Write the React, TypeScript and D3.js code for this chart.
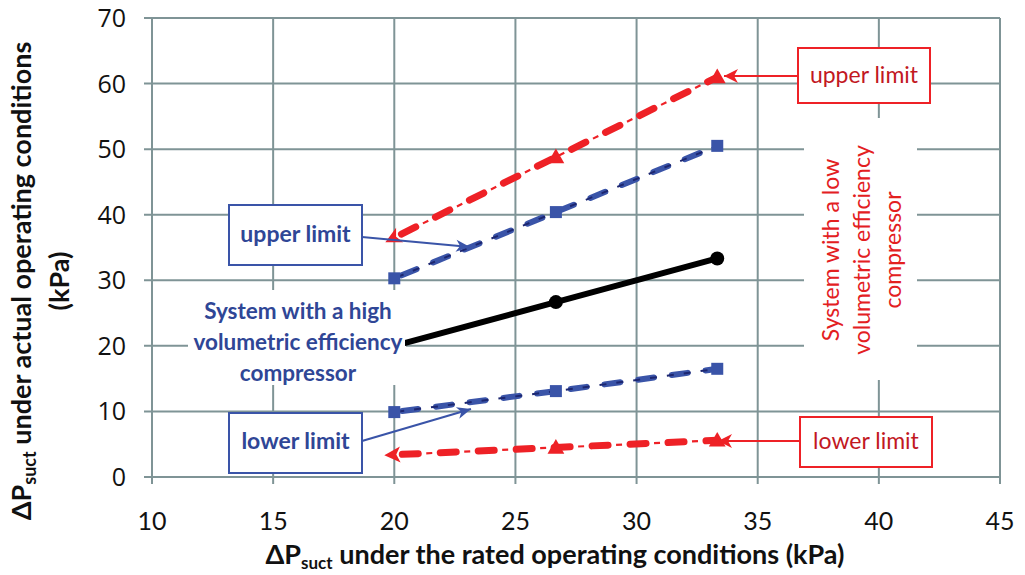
import React from "react";
import * as d3 from "d3";

// ---- data ----
const ratedDp = [20, 26.67, 33.33];
const referenceLine = [20, 26.67, 33.33];
const highEffUpper = [30.3, 40.4, 50.5];
const highEffLower = [9.9, 13.1, 16.5];
const lowEffUpper = [36.5, 48.8, 61];
const lowEffLower = [3.4, 4.5, 5.6];
const xTicks = [10, 15, 20, 25, 30, 35, 40, 45];
const yTicks = [0, 10, 20, 30, 40, 50, 60, 70];

const W = 1025;
const H = 575;
const x = d3.scaleLinear().domain([10, 45]).range([152, 1000]);
const y = d3.scaleLinear().domain([0, 70]).range([477, 18]);

const GRID = "#7f9496";
const BLUE = "#3a54a8";
const NAVY = "#1c2670";
const BLUE_TEXT = "#2f4696";
const RED = "#ee2126";
const RED_TEXT = "#c2181f";
const FONT = "Lato, 'Open Sans', sans-serif";

const line = d3
  .line<[number, number]>()
  .x((d) => x(d[0]))
  .y((d) => y(d[1]));

function pts(ys: number[]): [number, number][] {
  return ratedDp.map((v, i) => [v, ys[i]]);
}

function tri(cx: number, cy: number, s: number) {
  return `M${cx},${cy - s * 0.6} L${cx + s * 0.6},${cy + s * 0.45} L${cx - s * 0.6},${cy + s * 0.45} Z`;
}

export default function App() {
  const ref = pts(referenceLine);
  const hu = pts(highEffUpper);
  const hl = pts(highEffLower);
  const lu = pts(lowEffUpper);
  const ll = pts(lowEffLower);

  const redLine = (p: [number, number][], key: string) => (
    <g key={key}>
      <path
        d={line(p) || ""}
        fill="none"
        stroke={RED}
        strokeWidth={7}
        strokeLinecap="round"
        strokeDasharray="16 22"
        strokeDashoffset={-8}
      />
      <path
        d={line(p) || ""}
        fill="none"
        stroke={RED}
        strokeWidth={2.2}
        strokeDasharray="6 32"
        strokeDashoffset={6}
        markerStart="url(#redStart)"
      />
      {p.slice(1).map((d, i) => (
        <path key={i} d={tri(x(d[0]), y(d[1]), 14)} fill={RED} />
      ))}
    </g>
  );

  const blueLine = (p: [number, number][], key: string) => (
    <g key={key}>
      <path
        d={line(p) || ""}
        fill="none"
        stroke={BLUE}
        strokeWidth={6}
        strokeLinecap="round"
        strokeDasharray="16 18"
        strokeDashoffset={-8}
      />
      <path
        d={line(p) || ""}
        fill="none"
        stroke={NAVY}
        strokeWidth={2}
        strokeDasharray="7 10"
        strokeDashoffset={-3}
      />
      {p.map((d, i) => (
        <rect
          key={i}
          x={x(d[0]) - 6}
          y={y(d[1]) - 6}
          width={12}
          height={12}
          fill={BLUE}
        />
      ))}
    </g>
  );

  return (
    <svg
      width={W}
      height={H}
      viewBox={`0 0 ${W} ${H}`}
      style={{ display: "block", position: "absolute", left: 0, top: 0, background: "#fff" }}
    >
      <defs>
        <marker
          id="redStart"
          markerUnits="userSpaceOnUse"
          markerWidth={30}
          markerHeight={30}
          viewBox="-15 -15 30 30"
          refX={0}
          refY={0}
          orient="auto-start-reverse"
        >
          <path d="M10,0 L-6,-8 L-2,0 L-6,8 Z" fill={RED} />
        </marker>
        <marker
          id="blueArrow"
          markerUnits="userSpaceOnUse"
          markerWidth={30}
          markerHeight={30}
          viewBox="-15 -15 30 30"
          refX={0}
          refY={0}
          orient="auto"
        >
          <path d="M0,0 L-14,-6 L-10,0 L-14,6 Z" fill={BLUE} />
        </marker>
        <marker
          id="redArrow"
          markerUnits="userSpaceOnUse"
          markerWidth={30}
          markerHeight={30}
          viewBox="-15 -15 30 30"
          refX={0}
          refY={0}
          orient="auto"
        >
          <path d="M0,0 L-14,-7 L-10,0 L-14,7 Z" fill={RED} />
        </marker>
      </defs>

      {/* grid */}
      {xTicks.map((t) => (
        <line
          key={"gx" + t}
          x1={x(t)}
          x2={x(t)}
          y1={y(70)}
          y2={y(0) + 7}
          stroke={GRID}
          strokeWidth={2}
        />
      ))}
      {yTicks.map((t) => (
        <line
          key={"gy" + t}
          x1={x(10) - 8}
          x2={x(45)}
          y1={y(t)}
          y2={y(t)}
          stroke={GRID}
          strokeWidth={2}
        />
      ))}

      {/* white backgrounds behind text blocks */}
      <rect x={188} y={290} width={218} height={95} fill="#fff" />
      <rect x={804} y={118} width={113} height={262} fill="#fff" />

      {/* tick labels */}
      {yTicks.map((t) => (
        <text
          key={"ly" + t}
          x={126}
          y={y(t)}
          dy="0.36em"
          textAnchor="end"
          fontFamily="'Open Sans', sans-serif"
          fontSize={25}
          fill="#111"
        >
          {t}
        </text>
      ))}
      {xTicks.map((t) => (
        <text
          key={"lx" + t}
          x={x(t)}
          y={521}
          dy="0.35em"
          textAnchor="middle"
          fontFamily={FONT}
          fontSize={25}
          fill="#111"
        >
          {t}
        </text>
      ))}

      {/* axis titles */}
      <text
        x={555}
        y={555}
        dy="0.35em"
        textAnchor="middle"
        fontFamily={FONT}
        fontWeight="bold"
        fontSize={27}
        fill="#111"
      >
        ΔP<tspan fontSize={17} dy={5}>suct</tspan>
        <tspan dy={-5}> under the rated operating conditions  (kPa)</tspan>
      </text>
      <g transform="translate(22,281) rotate(-90)">
        <text
          x={0}
          y={0}
          dy="0.35em"
          textAnchor="middle"
          fontFamily={FONT}
          fontWeight="bold"
          fontSize={27}
          fill="#111"
        >
          ΔP<tspan fontSize={18} dy={5}>suct</tspan>
          <tspan dy={-5}> under actual operating conditions</tspan>
        </text>
        <text
          x={0}
          y={38}
          dy="0.35em"
          textAnchor="middle"
          fontFamily={FONT}
          fontWeight="bold"
          fontSize={27}
          fill="#111"
        >
          (kPa)
        </text>
      </g>

      {/* series */}
      {redLine(lu, "lu")}
      {redLine(ll, "ll")}
      {blueLine(hu, "hu")}
      {blueLine(hl, "hl")}
      <path d={line(ref) || ""} fill="none" stroke="#000" strokeWidth={6} />
      {ref.slice(1).map((d, i) => (
        <circle key={i} cx={x(d[0])} cy={y(d[1])} r={7} fill="#000" />
      ))}

      {/* high efficiency label (covers start of reference line) */}
      <rect x={188} y={330} width={217} height={28} fill="#fff" />
      {["System with a high", "volumetric efficiency", "compressor"].map((s, i) => (
        <text
          key={i}
          x={298}
          y={311 + i * 31}
          dy="0.35em"
          textAnchor="middle"
          fontFamily={FONT}
          fontWeight="bold"
          fontSize={22.5}
          fill={BLUE_TEXT}
        >
          {s}
        </text>
      ))}

      {/* low efficiency label */}
      <g transform="translate(862,250) rotate(-90)">
        {["System with a low", "volumetric efficiency", "compressor"].map((s, i) => (
          <text
            key={i}
            x={0}
            y={(i - 1) * 31}
            dy="0.35em"
            textAnchor="middle"
            fontFamily={FONT}
            fontSize={23}
            fill="#e3201f"
          >
            {s}
          </text>
        ))}
      </g>

      {/* blue annotation boxes */}
      <line x1={362} y1={237} x2={470} y2={247} stroke={BLUE} strokeWidth={2} markerEnd="url(#blueArrow)" />
      <rect x={229} y={205} width={133} height={60} fill="#fff" stroke={BLUE} strokeWidth={2} />
      <text x={295.5} y={234} dy="0.35em" textAnchor="middle" fontFamily={FONT} fontWeight="bold" fontSize={23} fill={BLUE_TEXT}>
        upper limit
      </text>
      <line x1={362} y1={441} x2={471} y2={409} stroke={BLUE} strokeWidth={2} markerEnd="url(#blueArrow)" />
      <rect x={229} y={413} width={133} height={60} fill="#fff" stroke={BLUE} strokeWidth={2} />
      <text x={295.5} y={441} dy="0.35em" textAnchor="middle" fontFamily={FONT} fontWeight="bold" fontSize={23} fill={BLUE_TEXT}>
        lower limit
      </text>

      {/* red annotation boxes */}
      <line x1={798} y1={76} x2={724} y2={76} stroke={RED} strokeWidth={2} markerEnd="url(#redArrow)" />
      <rect x={798} y={48} width={132} height={55} fill="#fff" stroke={RED} strokeWidth={2} />
      <text x={864} y={75} dy="0.35em" textAnchor="middle" fontFamily={FONT} fontSize={23} fill={RED_TEXT}>
        upper limit
      </text>
      <line x1={800} y1={441} x2={718} y2={441} stroke={RED} strokeWidth={2} markerEnd="url(#redArrow)" />
      <rect x={800} y={417} width={132} height={50} fill="#fff" stroke={RED} strokeWidth={2} />
      <text x={866} y={441} dy="0.35em" textAnchor="middle" fontFamily={FONT} fontSize={23} fill={RED_TEXT}>
        lower limit
      </text>
    </svg>
  );
}
